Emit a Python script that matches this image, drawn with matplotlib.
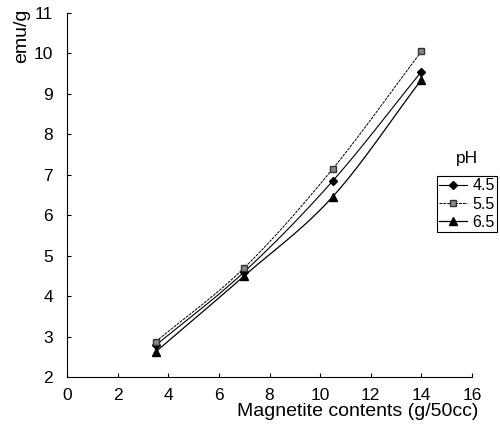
import numpy as np
import matplotlib
matplotlib.use("Agg")
import matplotlib.pyplot as plt

plt.rcParams['font.family'] = ['Liberation Sans', 'DejaVu Sans']

x = [3.5, 7, 10.5, 14]
ph45 = [2.78, 4.6, 6.85, 9.55]
ph55 = [2.87, 4.7, 7.15, 10.05]
ph65 = [2.62, 4.5, 6.46, 9.35]
labels = ['4.5', '5.5', '6.5']
xticks = list(range(0, 17, 2))
yticks = list(range(2, 12))

def smooth(xs, ys, n=30):
    xs = np.asarray(xs, float); ys = np.asarray(ys, float)
    px = np.concatenate([[2*xs[0]-xs[1]], xs, [2*xs[-1]-xs[-2]]])
    py = np.concatenate([[2*ys[0]-ys[1]], ys, [2*ys[-1]-ys[-2]]])
    ox, oy = [], []
    for i in range(1, len(px)-2):
        t = np.linspace(0, 1, n, endpoint=(i == len(px)-3))
        for arr, out in ((px, ox), (py, oy)):
            p0, p1, p2, p3 = arr[i-1], arr[i], arr[i+1], arr[i+2]
            out.extend(0.5*((2*p1) + (-p0+p2)*t + (2*p0-5*p1+4*p2-p3)*t**2 + (-p0+3*p1-3*p2+p3)*t**3))
    return ox, oy

fig = plt.figure(figsize=(5, 4.34), dpi=100)
ax = fig.add_axes([0.134, 0.1313, 0.81, 0.8387])

styles = [
    dict(ys=ph45, marker='D', ms=4, mfc='black', mec='black', ls='-', lw=0.8),
    dict(ys=ph55, marker='s', ms=4.5, mfc='#888888', mec='#333333', ls=(0, (3, 1)), lw=0.7),
    dict(ys=ph65, marker='^', ms=5.5, mfc='black', mec='black', ls='-', lw=0.9),
]
handles = []
for lab, st in zip(labels, styles):
    sx, sy = smooth(x, st['ys'])
    ax.plot(sx, sy, color='black', ls=st['ls'], lw=st['lw'])
    ax.plot(x, st['ys'], ls='none', marker=st['marker'], ms=st['ms'], mfc=st['mfc'], mec=st['mec'])
    h, = ax.plot([], [], color='black', ls=st['ls'], lw=st['lw'], marker=st['marker'], ms=st['ms'],
                 mfc=st['mfc'], mec=st['mec'], label=lab)
    handles.append(h)

ax.set_xlim(0, 16)
ax.set_ylim(2, 11)
ax.set_xticks(xticks)
ax.set_yticks(yticks)
for s in ['top', 'right']:
    ax.spines[s].set_visible(False)
ax.tick_params(direction='in', length=3, labelsize=12.5, width=0.8)
ax.tick_params(axis='x', pad=8)
ax.tick_params(axis='y', pad=10)

fig.text(358/500, 1-412/434, 'Magnetite contents (g/50cc)', fontsize=14, ha='center', va='center')
fig.text(22/500, 1-36/434, 'emu/g', fontsize=14, rotation=90, ha='center', va='center')
fig.text(467/500, 1-159/434, 'pH', fontsize=12.5, ha='center', va='center')

leg = fig.legend(handles=handles, loc='upper left', bbox_to_anchor=(437/500, 1-176/434), fontsize=11.5,
                 frameon=True, fancybox=False, edgecolor='black', framealpha=1,
                 handlelength=1.7, borderpad=0.15, labelspacing=0.2, handletextpad=0.35,
                 borderaxespad=0)
leg.get_frame().set_linewidth(0.8)

fig.savefig('out.png', dpi=100)
